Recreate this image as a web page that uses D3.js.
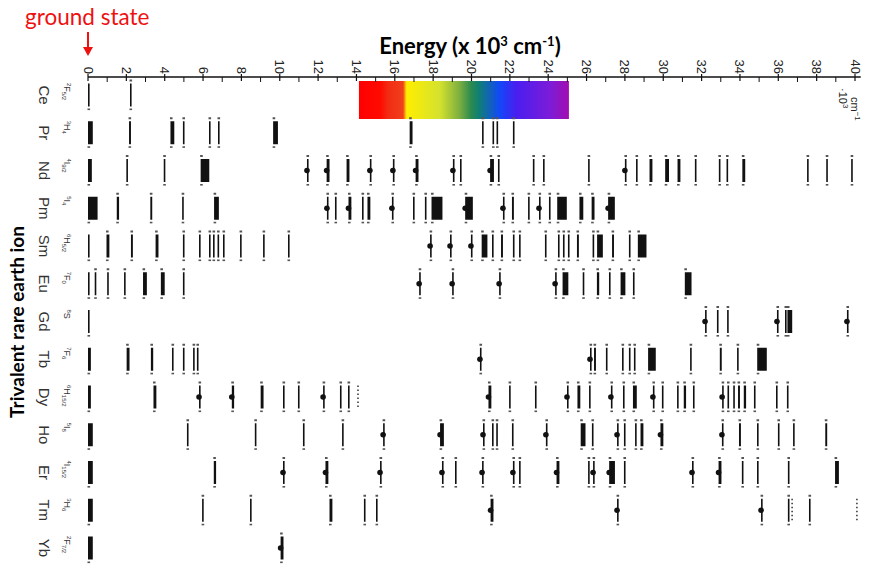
<!DOCTYPE html>
<html lang="en">
<head>
  <meta charset="UTF-8">
  <title>Dieke diagram</title>
  <script src="https://d3js.org/d3.v7.min.js"></script>
  <style>
    body { margin: 0; background: #fff; }
    svg { display: block; }
    .tick-lbl { font-family: "Liberation Sans", Arial, sans-serif; font-size: 13px; fill: #222; }
    .ion { font-family: "Liberation Sans", Arial, sans-serif; font-size: 15px; fill: #333; }
    .term { font-family: "Liberation Sans", Arial, sans-serif; font-size: 8px; fill: #333; }
    .big { font-family: Lato, "Open Sans", sans-serif; font-weight: bold; fill: #000; }
  </style>
</head>
<body>
<svg width="870" height="569"></svg>
<script>
// ions, top to bottom
const ions = ["Ce", "Pr", "Nd", "Pm", "Sm", "Eu", "Gd", "Tb", "Dy", "Ho", "Er", "Tm", "Yb"];
// ground terms [symbol, superscript multiplicity, subscript J]
const groundTerms = [["F","2","5/2"],["H","3","4"],["I","4","9/2"],["I","5","4"],["H","6","5/2"],["F","7","0"],
                     ["S","8",""],["F","7","6"],["H","6","15/2"],["I","5","8"],["I","4","15/2"],["H","3","6"],["F","2","7/2"]];
const energyTicks = d3.range(0, 41, 2);

// levels: [energy (10^3 cm-1), spread, kind] kind 0 = plain, 1 = luminescent (dot), 2 = uncertain (dotted)
const levelsCe = [[0,0,0],[2.19,0,0]];
const levelsPr = [[0,0.25,0],[2.19,0.1,0],[4.4,0.2,0],[4.95,0,0],[6.31,0,0],[6.78,0,0],[9.78,0.25,0],[16.85,0.15,0],
                  [20.55,0,0],[21.12,0.05,0],[21.33,0.05,0],[22.16,0,0]];
const levelsNd = [[0,0.2,0],[2.0,0,0],[3.95,0,0],[6.1,0.45,0],[11.42,0,1],[12.52,0.15,1],[13.56,0.15,0],[14.7,0,1],
                  [15.9,0,1],[17.16,0.15,1],[19.03,0,1],[19.4,0,0],[21.07,0.2,1],[21.38,0,0],[23.2,0,0],[23.73,0,0],
                  [26.08,0,0],[28.0,0,1],[28.58,0,0],[29.36,0.15,0],[30.2,0.2,0],[30.82,0.15,0],[31.65,0,0],[32.9,0,0],
                  [33.3,0,0],[34.2,0.15,0],[37.5,0,0],[38.5,0,0],[39.8,0,0]];
const levelsPm = [[0,0.5,0],[1.56,0.12,0],[3.3,0.1,0],[4.95,0.08,0],[6.7,0.25,0],[12.46,0,1],[12.88,0,0],[13.66,0.15,1],
                  [14.29,0,0],[14.65,0.15,0],[15.85,0,1],[16.95,0,0],[17.57,0,0],[18.2,0.57,0],[19.87,0.4,1],[21.64,0,1],
                  [22.16,0.1,0],[22.95,0,0],[23.52,0,1],[24.04,0,0],[24.72,0.5,0],[25.73,0.2,0],[26.34,0.15,0],[27.3,0.35,1]];
const levelsSm = [[0,0,0],[1.04,0.15,0],[2.29,0.1,0],[3.6,0.15,0],[4.95,0,0],[5.79,0,0],[6.31,0,0],[6.52,0,0],[6.78,0.05,0],
                  [7.04,0,0],[7.93,0,0],[9.13,0,0],[10.43,0,0],[17.84,0,1],[18.88,0,1],[19.97,0,1],[20.68,0.3,0],[21.07,0,0],
                  [21.59,0.1,0],[22.16,0,0],[22.48,0,0],[23.83,0,0],[24.51,0,0],[24.77,0,0],[25.03,0,0],[25.55,0.1,0],
                  [26.34,0.05,0],[26.7,0.3,0],[27.38,0.1,0],[28.21,0,0],[28.9,0.45,0]];
const levelsEu = [[0,0,0],[0.35,0,0],[1.0,0,0],[1.88,0,0],[2.97,0.2,0],[3.9,0.2,0],[4.95,0,0],[17.27,0,1],[18.99,0,1],
                  [21.44,0,1],[24.36,0,1],[24.9,0.3,0],[25.8,0,0],[26.6,0.12,0],[27.17,0,0],[27.9,0.25,0],[28.42,0,0],[31.3,0.35,0]];
const levelsGd = [[0,0,0],[32.18,0,1],[32.8,0,0],[33.33,0,0],[35.93,0,1],[36.35,0,0],[36.6,0.25,0],[39.58,0,1]];
const levelsTb = [[0,0.15,0],[2.09,0.15,0],[3.34,0.12,0],[4.38,0,0],[4.95,0,0],[5.48,0,0],[5.68,0,0],[20.44,0,1],[26.18,0,1],
                  [26.44,0.1,0],[27.01,0,0],[27.85,0,0],[28.21,0,0],[28.47,0,0],[29.41,0.4,0],[31.4,0,0],[33.0,0.1,0],
                  [33.85,0,0],[35.15,0.5,0]];
const levelsDy = [[0,0.15,0],[3.49,0.15,0],[5.79,0,1],[7.56,0.12,1],[9.08,0.15,0],[10.17,0,0],[10.95,0,0],[12.26,0,1],
                  [13.14,0,0],[13.56,0,0],[14.08,0,2],[20.96,0.15,1],[21.96,0,0],[23.31,0,0],[24.98,0,1],[25.6,0.15,0],
                  [26.13,0,0],[27.27,0,1],[27.9,0,0],[28.52,0.2,0],[29.46,0,1],[29.93,0,0],[30.72,0,0],[31.13,0.12,0],
                  [31.55,0,0],[33.07,0,1],[33.35,0,0],[33.65,0,0],[33.95,0.1,0],[34.26,0.12,0],[34.73,0,0],[35.88,0,0],[36.45,0,0]];
const levelsHo = [[0,0.25,0],[5.16,0,0],[8.7,0,0],[11.21,0,0],[13.25,0,0],[15.39,0,1],[18.46,0.2,1],[20.6,0,1],[21.07,0,0],
                  [21.33,0.08,0],[22.11,0,0],[23.88,0,1],[25.82,0.25,0],[26.28,0,0],[27.59,0,1],[27.95,0,0],[28.53,0,0],
                  [28.89,0.15,0],[29.93,0.15,1],[33.06,0,1],[34.0,0.1,0],[34.89,0,0],[35.98,0,0],[36.77,0,0],[38.5,0.1,0]];
const levelsEr = [[0,0.25,0],[6.62,0.12,0],[10.17,0,1],[12.46,0.15,1],[15.23,0,1],[18.46,0,1],[19.14,0,0],[20.55,0,1],
                  [22.16,0,1],[22.48,0,0],[24.51,0.15,1],[26.08,0,0],[26.34,0,1],[27.33,0.3,1],[27.95,0,0],[31.5,0,1],
                  [32.96,0.15,1],[34.1,0,0],[34.89,0,0],[36.5,0,0],[39.06,0.2,0]];
const levelsTm = [[0,0.25,0],[5.95,0,0],[8.45,0,0],[12.67,0.15,0],[14.39,0,0],[15.02,0,0],[21.07,0.15,1],[27.59,0,1],
                  [35.1,0,1],[36.5,0,0],[36.72,0,2],[37.6,0,0],[40.1,0,2]];
const levelsYb = [[0,0.25,0],[10.12,0.15,1]];
const allLevels = [levelsCe, levelsPr, levelsNd, levelsPm, levelsSm, levelsEu, levelsGd,
                   levelsTb, levelsDy, levelsHo, levelsEr, levelsTm, levelsYb];

// visible band drawn behind the Pr row, in 10^3 cm-1
const visibleBand = [14.13, 25.08];
const bandStops = [[0,"#ff0000"],[0.1,"#ff0a00"],[0.14,"#f22c14"],[0.21,"#f0401c"],[0.227,"#ffee00"],[0.385,"#d4e22e"],
                   [0.48,"#7cae40"],[0.535,"#2a8a50"],[0.57,"#108072"],[0.67,"#1248f8"],[0.75,"#4a1ef0"],[0.91,"#7c1cd8"],[1,"#a20eb0"]];

const svg = d3.select("svg");
const x = d3.scaleLinear().domain([0, 40]).range([88, 855]);
const y = d3.scalePoint().domain(ions).range([95, 548]);
const axisY = 77, barH = 23;

// gradient
const grad = svg.append("defs").append("linearGradient").attr("id", "vis");
grad.selectAll("stop").data(bandStops).join("stop")
  .attr("offset", d => d[0]).attr("stop-color", d => d[1]);

svg.append("rect")
  .attr("x", x(visibleBand[0])).attr("y", 81)
  .attr("width", x(visibleBand[1]) - x(visibleBand[0])).attr("height", 38)
  .attr("fill", "url(#vis)");

// axis
const ax = svg.append("g");
ax.append("line").attr("x1", x(0)).attr("x2", x(40.3)).attr("y1", axisY).attr("y2", axisY)
  .attr("stroke", "#111").attr("stroke-width", 1.6);
ax.selectAll("line.maj").data(energyTicks).join("line").attr("class", "maj")
  .attr("x1", d => x(d)).attr("x2", d => x(d)).attr("y1", axisY - 3).attr("y2", axisY + 4)
  .attr("stroke", "#111").attr("stroke-width", 1.2);
ax.selectAll("line.min").data(d3.range(1, 40, 2)).join("line").attr("class", "min")
  .attr("x1", d => x(d)).attr("x2", d => x(d)).attr("y1", axisY).attr("y2", axisY + 5)
  .attr("stroke", "#111").attr("stroke-width", 1);
ax.selectAll("text").data(energyTicks).join("text").attr("class", "tick-lbl")
  .attr("transform", d => `translate(${x(d) - 4.5},${axisY - 3}) rotate(90)`)
  .attr("text-anchor", "end")
  .text(d => d);

// unit note at right end
const unit = svg.append("text").attr("class", "tick-lbl").style("font-size", "11px")
  .attr("transform", `translate(${x(40) - 16},88) rotate(90)`);
unit.append("tspan").text("·10");
unit.append("tspan").attr("dy", -4).style("font-size", "8px").text("3");
const unit2 = svg.append("text").attr("class", "tick-lbl").style("font-size", "11px")
  .attr("transform", `translate(${x(40) - 4},97) rotate(90)`);
unit2.append("tspan").text("cm");
unit2.append("tspan").attr("dy", -4).style("font-size", "8px").text("−1");

// title
const title = svg.append("text").attr("class", "big").style("font-size", "22px")
  .attr("x", 470).attr("y", 54).attr("text-anchor", "middle");
title.append("tspan").text("Energy (x 10");
title.append("tspan").attr("dy", -8).style("font-size", "13px").text("3");
title.append("tspan").attr("dy", 8).text(" cm");
title.append("tspan").attr("dy", -8).style("font-size", "13px").text("-1");
title.append("tspan").attr("dy", 8).text(")");

// ground state annotation
svg.append("text").attr("x", 25).attr("y", 25)
  .style("font-family", "Lato, 'Open Sans', sans-serif").style("font-size", "22.5px").attr("fill", "#ee1111")
  .text("ground state");
svg.append("line").attr("x1", x(0)).attr("x2", x(0)).attr("y1", 32).attr("y2", 50)
  .attr("stroke", "#ee1111").attr("stroke-width", 2);
svg.append("path").attr("d", `M${x(0) - 5},47 L${x(0) + 5},47 L${x(0)},56 Z`).attr("fill", "#ee1111");

// y title
svg.append("text").attr("class", "big").style("font-size", "19px")
  .attr("transform", "translate(24,322) rotate(-90)").attr("text-anchor", "middle")
  .text("Trivalent rare earth ion");

// ion names and ground terms
svg.selectAll("text.ion").data(ions).join("text").attr("class", "ion")
  .attr("transform", d => `translate(39,${y(d)}) rotate(90)`).attr("text-anchor", "middle")
  .text(d => d);
const terms = svg.selectAll("text.term").data(groundTerms).join("text").attr("class", "term")
  .attr("transform", (d, i) => `translate(64,${y(ions[i]) - 12}) rotate(90)`);
terms.append("tspan").attr("dy", -3).style("font-size", "6px").text(d => d[1]);
terms.append("tspan").attr("dy", 3).style("font-size", "9px").text(d => d[0]);
terms.append("tspan").attr("dy", 2).style("font-size", "6px").text(d => d[2]);

// levels
const rows = svg.selectAll("g.row").data(allLevels).join("g").attr("class", "row")
  .attr("transform", (d, i) => `translate(0,${y(ions[i])})`);

function bx(d) { return x(Math.max(0, d[0] - d[1] / 2)); }
function bw(d) { return Math.max(1.6, x(d[1]) - x(0)); }

rows.each(function (levels) {
  const g = d3.select(this);
  const solid = levels.filter(d => d[2] !== 2);
  g.selectAll("rect.bar").data(solid).join("rect").attr("class", "bar")
    .attr("x", bx).attr("width", bw)
    .attr("y", -barH / 2).attr("height", barH).attr("fill", "#111");
  g.selectAll("rect.cap").data(solid.filter(d => d[0] > 0)).join("rect").attr("class", "cap")
    .attr("x", d => bx(d) - 0.5).attr("width", 2.6)
    .attr("y", -barH / 2 - 4).attr("height", 2).attr("fill", "#555");
  g.selectAll("rect.foot").data(solid).join("rect").attr("class", "foot")
    .attr("x", d => bx(d) - 0.5).attr("width", 2.6)
    .attr("y", barH / 2 + 2).attr("height", 1.6).attr("fill", "#555");
  g.selectAll("line.dash").data(levels.filter(d => d[2] === 2)).join("line").attr("class", "dash")
    .attr("x1", d => x(d[0])).attr("x2", d => x(d[0]))
    .attr("y1", -barH / 2).attr("y2", barH / 2)
    .attr("stroke", "#222").attr("stroke-width", 1.4).attr("stroke-dasharray", "1.5,2.5");
  g.selectAll("circle").data(levels.filter(d => d[2] === 1)).join("circle")
    .attr("cx", d => bx(d)).attr("cy", 0).attr("r", 2.8).attr("fill", "#111");
});
</script>
</body>
</html>
